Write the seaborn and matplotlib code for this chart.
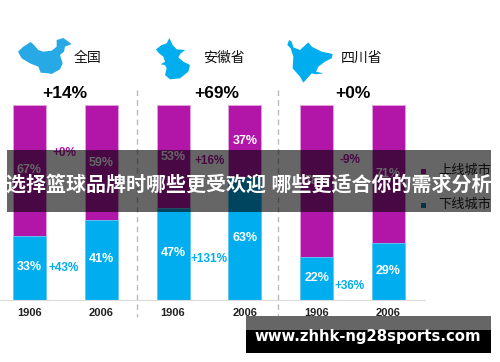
import matplotlib
matplotlib.use('Agg')
import matplotlib.pyplot as plt
import pandas as pd
import seaborn as sns
from matplotlib.patches import Polygon, Rectangle

sns.set_style('white')
plt.rcParams['font.family'] = ['Liberation Sans', 'Noto Sans CJK SC', 'DejaVu Sans']

PURPLE = '#B116A9'
BLUE = '#00AEEF'

groups = ['全国 1906', '全国 2006', '安徽省 1906', '安徽省 2006', '四川省 1906', '四川省 2006']
years = ['1906', '2006', '1906', '2006', '1906', '2006']
upper = [67, 59, 53, 37, 78, 71]
lower = [33, 41, 47, 63, 22, 29]
regions = ['全国', '安徽省', '四川省']
totals = ['+14%', '+69%', '+0%']
upper_growth = ['+0%', '+16%', '-9%']
lower_growth = ['+43%', '+131%', '+36%']
legend_names = ['上线城市', '下线城市']
title = '选择篮球品牌时哪些更受欢迎 哪些更适合你的需求分析'
site = 'www.zhhk-ng28sports.com'

df = pd.DataFrame({'group': groups, 'upper': upper, 'lower': lower})
df['total'] = df['upper'] + df['lower']

fig = plt.figure(figsize=(5, 3.62), dpi=100)
# chart axes, pixels 0-425 across and 105-300 down
ax = fig.add_axes([0, (362 - 300) / 362, 425 / 500, 195 / 362])
sns.barplot(data=df, x='group', y='total', color=PURPLE, width=0.46, saturation=1,
            edgecolor='#E3A6DF', linewidth=0.6, ax=ax)
sns.barplot(data=df, x='group', y='lower', color=BLUE, width=0.46, saturation=1,
            edgecolor='#66CEF5', linewidth=0.6, ax=ax)
ax.set_xlim(-0.41, 5.51)
ax.set_ylim(0, 100)
ax.set_xlabel('')
ax.set_ylabel('')
ax.set_yticks([])
ax.set_xticks(range(6))
ax.set_xticklabels(years, fontsize=8, fontweight='bold', color='#222222')
ax.tick_params(axis='x', length=0, pad=6)
sns.despine(ax=ax, left=True)
ax.spines['bottom'].set_color('#DDDDDD')

for i in range(6):
    ax.text(i, lower[i] / 2 + 0.5, f'{lower[i]}%', color='white', fontsize=9, fontweight='bold',
            ha='center', va='center')
    ax.text(i, lower[i] + upper[i] / 2, f'{upper[i]}%', color='white', fontsize=9, fontweight='bold',
            ha='center', va='center')

# overlay axes in picture pixels for everything that is not a bar
top = fig.add_axes([0, 0, 1, 1], zorder=5)
top.set_xlim(0, 500)
top.set_ylim(362, 0)
top.axis('off')

for x in [137, 278]:
    top.plot([x, x], [90, 317], color='#BBBBBB', lw=1, ls=(0, (4, 3)))

china = [(24, 65), (40, 50), (62, 36), (72, 45), (85, 60), (100, 65), (125, 62), (140, 50), (140, 30), (160, 24),
         (185, 42), (165, 50), (162, 65), (150, 75), (158, 100), (150, 118), (125, 132), (115, 130), (92, 128),
         (85, 110), (60, 100), (35, 85)]
anhui = [(18, 58), (35, 45), (50, 40), (58, 24), (68, 45), (80, 58), (106, 60), (92, 70), (85, 82), (100, 95),
         (120, 105), (115, 125), (90, 145), (60, 148), (45, 135), (50, 115), (45, 105), (32, 103), (45, 95),
         (40, 80), (25, 68)]
sichuan = [(22, 45), (27, 30), (35, 35), (40, 52), (60, 60), (85, 37), (95, 50), (125, 65), (158, 72), (155, 85),
           (135, 95), (115, 110), (108, 125), (130, 130), (108, 133), (95, 130), (70, 158), (60, 140), (38, 115),
           (40, 80), (32, 55)]
for shape, x0, col in [(china, 10, '#27A9E6'), (anhui, 150, BLUE), (sichuan, 280, BLUE)]:
    top.add_patch(Polygon([(x0 + a / 3, 30 + b / 3) for a, b in shape], closed=True, color=col, lw=0))

for x, name in zip([88, 224, 362], regions):
    top.text(x, 58, name, fontsize=10, ha='center', va='center', color='#111111')
for x, val in zip([65, 217, 353], totals):
    top.text(x, 93, val, fontsize=12.5, fontweight='bold', ha='center', va='center', color='black')
for x, y, val in zip([64, 210, 350], [153, 161, 160], upper_growth):
    top.text(x, y, val, fontsize=8.5, fontweight='bold', ha='center', va='center', color=PURPLE)
for x, y, val in zip([64, 209, 350], [268, 259, 286], lower_growth):
    top.text(x, y, val, fontsize=8.5, fontweight='bold', ha='center', va='center', color=BLUE)

for y, name, col in zip([171, 205], legend_names, [PURPLE, '#0F7FB5']):
    top.add_patch(Rectangle((420.5, y - 2.5), 5, 5, color=col, lw=0))
    top.text(438, y, name, fontsize=9.5, ha='left', va='center', color='#222222')

# grey band over the chart and the site strip
top.add_patch(Rectangle((7, 150), 484, 62, color='black', alpha=0.6, lw=0, zorder=6))
top.text(249, 185, title, fontsize=14.4, fontweight='bold', ha='center', va='center', color='white', zorder=7)
top.add_patch(Rectangle((246, 316), 245, 14, color='#666666', lw=0, zorder=6))
top.add_patch(Rectangle((246, 330), 245, 23, color='black', lw=0, zorder=6))
top.text(368, 337, site, fontsize=10.7, fontweight='bold', ha='center', va='center', color='white',
         family=['DejaVu Sans'], zorder=7)

fig.savefig('out.png', dpi=100)
